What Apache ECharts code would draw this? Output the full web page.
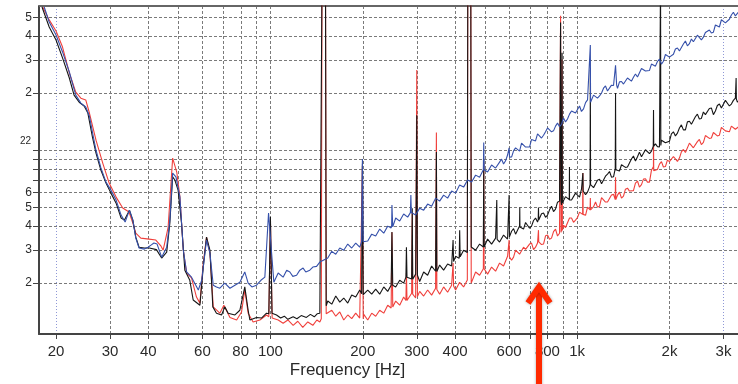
<!DOCTYPE html>
<html><head><meta charset="utf-8">
<script src="https://cdn.jsdelivr.net/npm/echarts@6/dist/echarts.min.js"></script>
<style>html,body{margin:0;padding:0;background:#fff;}#c{width:738px;height:384px;}</style>
</head><body><div id="c"></div>
<script>
// ---- tick / grid values ----
const xTickValues = [20,30,40,50,60,70,80,90,100,200,300,400,500,600,700,800,900,1000,2000,3000];
const xLabelValues = [20,30,40,60,80,100,200,300,400,600,800,1000,2000,3000];
const xLabelTexts = ['20','30','40','60','80','100','200','300','400','600','800','1k','2k','3k'];
const yGridValues = [2,3,4,5,6,7,8,9,10,20,30,40,50];
const yLabelValues = [2,3,4,5,6,10,20,30,40,50];
const yLabelTexts = ['2','3','4','5','6','22','2','3','4','5'];

// ---- low-frequency traces [Hz, value] ----
const lowBlue = [[18.3,56.7],[19.0,47.3],[20,40.4],[21.0,32.9],[22.1,25.8],[23.2,19.5],[24.1,17.7],[25.0,16.9],[25.7,15.1],[26.4,12.0],[27.0,10.0],[28.0,8.1],[29.1,6.8],[30.2,6.17],[31.4,5.47],[32.6,4.56],[33.6,4.19],[34.7,4.84],[35.6,4.29],[36.4,3.45],[37.3,3.06],[38.8,3.02],[39.9,3.09],[40.8,3.17],[41.7,3.25],[42.7,3.21],[44.2,2.74],[45.9,3.09],[47.0,4.29],[48.0,7.59],[49.2,7.25],[50.7,5.67],[52.0,2.98],[53.3,2.29],[55.3,2.15],[58.2,1.84],[59.7,2.07],[61.9,3.37],[63.5,2.88],[65.1,1.95],[66.7,1.91],[68.4,1.88],[71.0,2.00],[73.8,1.88],[76.6,1.95],[79.5,2.02],[82.5,2.29],[84.6,2.00],[87.0,1.91],[90.1,1.95],[93.1,2.07],[95.9,2.15],[98.6,4.67],[102.6,2.02],[106,2.26],[110,2.15],[113,2.34],[115.7,2.29],[118.3,2.17],[121.7,2.20],[124.7,2.34],[127.8,2.40],[130.4,2.29],[134.4,2.34],[137.5,2.43],[141.4,2.45],[144.9,2.58]];
const lowBlack = [[18.0,56.7],[19.0,44.5],[20,38.0],[21.0,30.6],[22.1,24.0],[22.9,19.5],[23.8,17.9],[24.7,17.1],[25.4,15.7],[26.3,11.7],[27.0,9.66],[28.0,7.87],[29.1,6.72],[30.2,5.95],[31.4,5.27],[32.6,4.40],[33.4,4.29],[34.7,4.84],[35.6,4.29],[36.4,3.49],[37.3,3.09],[38.8,3.06],[40.3,3.06],[42.5,3.0],[44.2,2.71],[45.9,2.91],[47.0,4.14],[48.0,7.25],[48.8,6.97],[50.0,6.17],[51.3,4.14],[52.6,2.34],[54.6,2.07],[56.0,1.63],[58.9,1.53],[60.4,2.43],[61.9,3.49],[63.5,2.98],[64.9,1.50],[66.7,1.39],[69.3,1.36],[71.0,1.50],[72.8,1.39],[76.6,1.36],[79.5,1.44],[82.5,1.91],[84.6,1.44],[85.7,1.28],[90.1,1.32],[93.5,1.31],[97.1,1.39],[98.8,1.38],[100,4.45],[101.2,1.39],[104.7,1.36],[108,1.31],[111,1.34],[114,1.29],[118.6,1.33],[122,1.30],[126,1.35],[131,1.32],[135,1.37],[139,1.33],[142,1.38],[144.9,1.39]];
const lowRed = [[18.1,56.7],[19.0,48.5],[20,42.4],[21.0,34.9],[22.1,25.5],[23.2,20.2],[24.1,18.8],[25.0,18.4],[25.7,15.7],[27.0,11.3],[28.4,8.56],[29.8,6.72],[31.4,5.67],[33.0,4.97],[34.6,4.73],[35.6,4.14],[36.4,3.67],[37.8,3.45],[40.2,3.41],[42.3,3.37],[44.0,3.13],[44.7,2.98],[46.4,3.93],[48.0,9.10],[49.5,7.68],[50.7,5.67],[52.0,2.98],[53.3,2.26],[55.3,2.13],[57.4,1.69],[58.9,1.57],[60.4,2.55],[61.9,3.49],[63.5,2.88],[65.1,1.50],[68.4,1.39],[70.5,1.53],[73.8,1.32],[77.6,1.28],[80.5,1.41],[82.5,1.84],[84.6,1.39],[87.8,1.25],[92.4,1.28],[97.1,1.36],[98.8,1.33],[100,4.29],[101.3,1.31],[106,1.28],[110,1.23],[114,1.28],[118.6,1.20],[122.8,1.26],[127.5,1.17],[132.4,1.25],[137.5,1.20],[141.7,1.28],[144.9,1.25]];

// ---- high-frequency noise floor, shared frequency grid ----
const hiFreqs = [153.8,158.5,163.3,168.3,173.4,178.7,184.1,189.7,195.5,201.5,207.6,213.9,220.4,227.1,234.1,241.2,248.5,256.1,263.9,271.9,280.2,288.7,297.5,306.6,315.9,325.5,335.4,345.6,356.2,367.0,378.2,389.7,401.6,413.8,426.4,439.4,452.8,466.6,480.8,495.4,510.5,526.1,542.1,558.6,575.6,593.1,611.2,629.8,649.0,668.7,689.1,710.1,731.7,754.0,777.0,800.7,825.0,850.2,876.1,902.7,930.2,958.6,987.8,1018,1049,1081,1114,1148,1183,1219,1256,1294,1333,1374,1416,1459,1503,1549,1596,1645,1695,1747,1800,1855,1911,1969,2029,2091,2155,2220,2288,2358,2429,2503,2580,2658,2739,2823,2909,2997,3089,3183,3280,3380];
const hiBlue = [2.71,2.94,2.84,3.06,2.98,3.21,3.06,3.25,3.09,3.37,
3.33,3.62,3.54,3.85,3.66,3.99,4.04,4.40,4.24,4.62,
4.45,4.78,4.56,4.96,4.84,5.21,5.08,5.60,5.40,5.81,
5.60,6.10,5.95,6.56,6.40,6.97,6.80,7.40,7.22,7.96,
7.68,8.36,8.06,8.66,8.46,9.44,9.21,10.3,9.89,10.8,
10.5,11.4,11.2,12.4,12.0,13.1,12.5,13.4,13.3,14.8,
14.6,16.1,15.7,17.1,16.5,18.4,17.9,19.7,19.3,21.2,
20.5,22.0,21.5,22.9,22.3,24.0,23.1,25.2,24.6,26.7,
26.1,28.4,27.7,30.2,29.4,32.1,31.3,34.1,33.3,36.2,
35.4,38.5,37.5,40.9,39.4,42.4,41.4,45.6,44.5,48.4,
47.3,51.5,50.9,54.0];
const hiBlack = [1.61,1.55,1.71,1.59,1.67,1.57,1.73,1.69,1.84,1.73,
1.84,1.75,1.86,1.75,1.91,1.81,1.98,1.91,2.07,2.00,
2.20,2.10,2.23,2.04,2.29,2.20,2.46,2.31,2.49,2.34,
2.52,2.46,2.77,2.71,2.98,2.91,3.13,2.98,3.21,3.09,
3.41,3.21,3.45,3.29,3.58,3.41,3.75,3.62,3.99,3.85,
4.19,3.99,4.40,4.24,4.68,4.56,5.08,4.90,5.40,5.21,
5.67,5.47,5.95,5.67,6.24,6.02,6.64,6.40,7.05,6.80,
7.49,7.22,8.06,7.77,8.46,8.16,8.99,8.77,9.78,9.44,
10.3,9.89,10.8,10.4,11.4,11.0,12.2,11.9,13.1,12.8,
14.1,13.7,15.0,14.6,15.9,15.3,16.7,16.1,17.5,16.7,
18.1,17.5,18.8,18.4];
const hiRed = [1.36,1.44,1.34,1.41,1.28,1.36,1.30,1.39,1.31,1.37,
1.28,1.39,1.34,1.44,1.39,1.53,1.46,1.61,1.53,1.69,
1.61,1.77,1.67,1.81,1.71,1.84,1.73,1.88,1.75,1.91,
1.79,1.95,1.84,2.02,1.91,2.10,2.02,2.29,2.20,2.40,
2.23,2.43,2.31,2.55,2.46,2.77,2.64,2.98,2.84,3.09,
2.94,3.25,3.09,3.37,3.21,3.58,3.45,3.85,3.66,4.04,
3.94,4.40,4.29,4.73,4.56,5.02,4.78,5.34,5.08,5.67,
5.34,5.81,5.47,6.02,5.74,6.32,6.10,6.72,6.40,7.05,
6.80,7.86,7.77,8.46,8.16,8.88,8.56,9.44,9.10,10.1,
9.89,10.9,10.5,11.4,11.0,12.0,11.6,12.6,12.0,13.1,
12.5,13.4,12.9,13.4];

// ---- extra in-between noise readings above ~560 Hz ----
const midFreqs = [567.0,584.3,602.1,620.4,639.3,658.8,678.9,699.5,720.8,742.8,765.4,788.7,812.7,837.5,863.0,889.3,916.4,944.3,973.1,1002.7,1033,1065,1097,1131,1165,1201,1237,1275,1314,1354,1395,1437,1481,1526,1573,1621,1670,1721,1773,1827,1883,1940,1999,2060,2123,2187,2254,2323,2393,2466,2541,2619,2698,2781,2865,2953,3043,3135,3231,3329];
const midBlue = [8.98,8.80,8.98,9.93,10.06,10.9,10.4,10.4,11.45,12.2,
11.6,12.5,13.2,12.65,13.9,13.7,14.1,15.5,16.4,15.9,
16.0,17.8,18.0,19.5,18.8,20.0,21.8,20.7,21.9,21.2,
23.0,21.9,24.3,24.2,24.3,26.9,26.1,26.3,28.8,29.3,
28.4,31.9,30.9,32.0,34.5,33.5,37.6,36.4,37.2,40.3,
38.1,41.6,42.9,41.8,44.8,48.6,46.8,48.9,53.2,51.5];
const midBlack = [3.25,3.62,3.54,3.87,3.66,3.92,4.17,3.89,4.27,4.19,
4.64,4.44,4.86,4.76,5.33,5.16,5.70,5.48,5.46,5.92,
6.24,5.84,6.40,6.36,6.96,6.67,7.31,7.73,7.25,7.77,
8.39,8.13,8.16,9.33,9.24,9.24,10.06,9.61,10.7,10.45,
11.3,10.95,11.15,12.5,12.3,13.6,12.8,14.2,13.95,15.5,
14.7,15.4,16.6,15.4,17.2,16.7,18.3,17.1,18.3,17.9];
const midRed = [2.60,2.48,2.77,2.74,3.04,2.85,3.01,3.21,3.00,3.25,
3.19,3.55,3.40,3.73,3.54,3.92,3.92,4.40,4.18,4.43,
4.80,4.55,5.03,5.05,5.02,5.63,5.34,5.29,5.86,5.81,
5.60,6.24,6.10,6.13,6.89,6.59,7.08,6.80,8.21,7.92,
8.72,8.21,8.72,9.27,8.74,9.80,9.73,10.9,10.3,11.1,
10.7,11.95,11.55,12.4,11.9,13.2,12.65,12.5,13.55,12.9];

// ---- narrow tonal peaks [Hz, value] ----
const spikesBlue = [[198.3,3.3],[199.5,9.0],[200.7,3.3],[247.5,3.9],[249,5.15],[250.5,3.95],[286,4.7],[287,5.81],[288,4.7],[494.5,7.9],[496,11.0],[497.5,7.9],[598,9.3],[600,10.3],[602,9.2],[1102,18.0],[1104,35.8],[1106,17.9],[1325,21.7],[1334,28.0],[1345,22.0]];
const spikesBlack = [[146.5,1.42],[147.3,80],[151.2,80],[152,1.52],[198.3,1.76],[199.5,8.5],[200.7,1.74],[247.5,1.95],[249,3.71],[250.5,1.95],[276.5,2.15],[277.6,3.09],[278.8,2.15],[289,2.1],[290,4.96],[291,2.1],[298.5,2.2],[300,15.3],[301.5,2.2],[346.5,2.3],[347.6,9.78],[348.8,2.3],[392.5,2.5],[394,3.37],[395.5,2.6],[412.5,2.7],[414,3.8],[415.5,2.75],[438.5,2.9],[440,80],[450,80],[451.5,3.1],[494.5,3.1],[496,8.88],[497.5,3.1],[545.5,3.4],[547,5.47],[548.5,3.4],[598.5,3.45],[600,5.81],[601.5,3.5],[649.5,3.99],[650,5.0],[650.8,3.95],[746.5,4.3],[748,5.0],[749.5,4.3],[881,5.4],[883,47],[886,5.4],[891,5.3],[893,32.6],[895,5.3],[942.5,5.5],[944,8.16],[945.5,5.5],[1042,6.1],[1044,7.59],[1046,6.1],[1102,6.6],[1104,26.4],[1106,6.6],[1331,8.0],[1334,20.0],[1337,7.9],[1771,10.5],[1774,16.3],[1777,10.5],[1866,10.5],[1870,80],[1874,10.6],[3292,18.6],[3298,24.0],[3304,18.6]];
const spikesRed = [[146.5,1.30],[147.3,80],[151.2,80],[152,1.38],[198.3,1.32],[199.5,8.3],[200.7,1.3],[247.5,1.48],[249,3.7],[250.5,1.5],[276.5,1.62],[277.6,2.26],[278.8,1.62],[289,1.75],[290,4.7],[291,1.75],[298.5,1.7],[300,26.4],[301.5,1.7],[346.5,1.85],[347.6,12.4],[348.8,1.85],[392.5,1.93],[394,2.55],[395.5,1.93],[438.5,2.08],[440,80],[450,80],[451.5,2.0],[494.5,2.38],[496,8.66],[497.5,2.38],[598.5,2.75],[600,3.37],[601.5,2.75],[746.5,3.3],[748,3.8],[749.5,3.3],[881,3.7],[883,51],[886,3.7],[891,3.75],[893,30],[895,3.8],[1042,4.6],[1044,7.59],[1046,4.6],[1102,4.85],[1104,5.6],[1106,4.85],[1331,5.5],[1334,7.22],[1337,5.5],[1771,7.8],[1774,11.3],[1777,7.8]];

function build(low, hi, mid, spikes) {
  const pts = low.concat(hiFreqs.map((f, i) => [f, hi[i]]), midFreqs.map((f, i) => [f, mid[i]]), spikes);
  pts.sort((a, b) => a[0] - b[0]);
  return pts;
}

const FONT = '"Liberation Sans", Arial, Helvetica, sans-serif';
const chart = echarts.init(document.getElementById('c'), null, {renderer: 'canvas'});
const lineSeries = (name, color, data, z) => ({
  name, type: 'line', data, showSymbol: false, symbol: 'none', clip: true, z,
  lineStyle: {color, width: 1.1}, emphasis: {disabled: true}, silent: true
});
chart.setOption({
  animation: false,
  grid: {left: 39, top: 6, right: 0, bottom: 50, containLabel: false},
  xAxis: {type: 'log', logBase: 10, min: 17.6, max: 3345,
    axisLine: {show: true, onZero: false, lineStyle: {color: '#444', width: 2}},
    axisTick: {show: false}, axisLabel: {show: false}, splitLine: {show: false}},
  yAxis: {type: 'log', logBase: 10, min: 1.08, max: 57.4,
    axisLine: {show: true, onZero: false, lineStyle: {color: '#444', width: 2}},
    axisTick: {show: false}, axisLabel: {show: false}, splitLine: {show: false}},
  series: [
    lineSeries('red', '#f0403c', build(lowRed, hiRed, midRed, spikesRed), 3),
    lineSeries('black', '#161616', build(lowBlack, hiBlack, midBlack, spikesBlack), 4),
    lineSeries('blue', '#3550aa', build(lowBlue, hiBlue, midBlue, spikesBlue), 5)
  ]
});

const px = v => chart.convertToPixel({xAxisIndex: 0}, v);
const py = v => chart.convertToPixel({yAxisIndex: 0}, v);
const L = px(17.6), R = px(3345), T = py(57.4), B = py(1.08);
const els = [];
xTickValues.forEach(v => {
  const x = Math.round(px(v)) + 0.5;
  const edge = (v === 20 || v === 3000);
  els.push({type: 'line', silent: true, z: 0,
    shape: {x1: x, y1: T, x2: x, y2: B},
    style: {stroke: edge ? '#8f98d6' : '#7a7a7a', lineWidth: 1, lineDash: edge ? [1, 2] : [3, 2]}});
  els.push({type: 'line', silent: true, z: 1,
    shape: {x1: x, y1: B, x2: x, y2: B + 5}, style: {stroke: '#444', lineWidth: 1}});
});
yGridValues.forEach(v => {
  const y = Math.round(py(v)) + 0.5;
  els.push({type: 'line', silent: true, z: 0,
    shape: {x1: L, y1: y, x2: R, y2: y},
    style: {stroke: '#7a7a7a', lineWidth: 1, lineDash: [3, 2]}});
  els.push({type: 'line', silent: true, z: 1,
    shape: {x1: L - 6, y1: y, x2: L, y2: y}, style: {stroke: '#444', lineWidth: 1}});
});
xLabelValues.forEach((v, i) => {
  els.push({type: 'text', silent: true, z: 1, x: px(v), y: 352,
    style: {text: xLabelTexts[i], fontSize: 15, fontFamily: FONT, fill: '#2a2a2a', align: 'center', verticalAlign: 'middle'}});
});
yLabelValues.forEach((v, i) => {
  const small = yLabelTexts[i] === '22';
  els.push({type: 'text', silent: true, z: 1, x: small ? 31 : 32, y: py(v) - (small ? 9 : 0),
    style: {text: yLabelTexts[i], fontSize: small ? 10 : 12, fontFamily: FONT, fill: '#2a2a2a', align: 'right', verticalAlign: 'middle'}});
});
// top frame line
els.push({type: 'line', silent: true, z: 1, shape: {x1: L, y1: T, x2: R, y2: T}, style: {stroke: '#666', lineWidth: 2}});
// axis name
els.push({type: 'text', silent: true, z: 1, x: (L + R) / 2 - 41, y: 370,
  style: {text: 'Frequency [Hz]', fontSize: 17, fontFamily: FONT, fill: '#2a2a2a', align: 'center', verticalAlign: 'middle'}});
// red annotation arrow
const ax = Math.round(px(752));
els.push({type: 'line', silent: true, z: 100, shape: {x1: ax, y1: 289, x2: ax, y2: 390},
  style: {stroke: '#ff2a00', lineWidth: 6, shadowBlur: 3, shadowColor: 'rgba(0,0,0,0.35)'}});
els.push({type: 'polyline', silent: true, z: 101, shape: {points: [[ax - 11, 303], [ax, 287], [ax + 11, 303]]},
  style: {stroke: '#ff2a00', lineWidth: 6, fill: null, lineJoin: 'miter', shadowBlur: 3, shadowColor: 'rgba(0,0,0,0.35)'}});
chart.setOption({graphic: {elements: els}});
</script></body></html>
